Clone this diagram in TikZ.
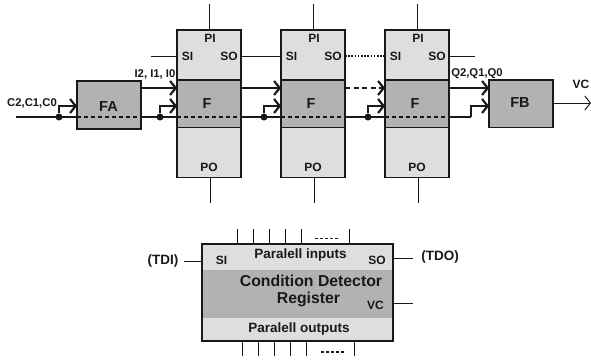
\documentclass[tikz,border=0pt]{standalone}
\usepackage{fontspec}
\setmainfont{Liberation Sans}
\usetikzlibrary{arrows.meta}
\definecolor{lite}{gray}{0.87}
\definecolor{mid}{gray}{0.70}
\definecolor{lin}{gray}{0.10}
\tikzset{
  part/.style={draw=lin,line width=1.2pt,inner sep=0pt,outer sep=0pt,minimum width=64pt},
  litebox/.style={part,fill=lite},
  midbox/.style={part,fill=mid},
  lab/.style={font=\bfseries\fontsize{12}{14}\selectfont,text=lin,inner sep=0pt},
  widelab/.style={font=\bfseries\fontsize{13.5}{15}\selectfont,text=lin,inner sep=0pt},
  smalllab/.style={font=\bfseries\fontsize{11.3}{13}\selectfont,text=lin,inner sep=0pt},
  biglab/.style={font=\bfseries\fontsize{14.5}{16}\selectfont,text=lin,inner sep=0pt},
  titlelab/.style={font=\bfseries\fontsize{15.8}{18}\selectfont,text=lin,inner sep=0pt},
  wire/.style={draw=lin,line width=1pt},
  bus/.style={draw=lin,line width=2pt},
  busdash/.style={bus,dash pattern=on 4pt off 3pt},
  inarrow/.style={draw=lin,line width=1.6pt,-{Straight Barb[length=5.5pt,width=14pt,line width=2.2pt,sep=0pt]}},
  dotn/.style={circle,fill=lin,inner sep=0pt,minimum size=7pt},
}
\begin{document}
\begin{tikzpicture}[x=1pt,y=-1pt]
\useasboundingbox (0,0) rectangle (591,359);
\foreach \n/\x in {1/209,2/313,3/417}{
  \coordinate (top\n) at (\x,4);
  \coordinate (bot\n) at (\x+1,203);
}
\foreach \n/\x in {1/209,2/313,3/417}{
  \node[litebox,minimum height=50pt] (pi\n) at (\x,55) {};
  \node[litebox,minimum height=50pt] (po\n) at (\x,152.5) {};
  \node[midbox,minimum height=47.5pt] (f\n) at (\x,103.75) {};
  \node[lab] (plbl\n) at (\x+1,38.5) {PI};
  \node[lab] (si\n) at (\x-21.5,56) {SI};
  \node[lab] (so\n) at (\x+20,56) {SO};
  \node[lab] (polbl\n) at (\x,167) {PO};
  \node[biglab] (flbl\n) at (\x-2,104) {F};
  \draw[wire] (top\n) -- (\x,30);
  \draw[wire] (\x+1,178) -- (bot\n);
}
\node[midbox,minimum height=48pt] (fa) at (109,105) {};
\node[midbox,minimum height=47.5pt] (fb) at (521,103.75) {};
\node[biglab] (falbl) at (108.5,106.5) {FA};
\node[biglab] (fblbl) at (520,103) {FB};
\coordinate (sistart) at (151,56);
\coordinate (soend) at (475,56);
\coordinate (vcend) at (591,103);
\draw[wire] (sistart) -- (177,56);
\draw[wire] (241,56) -- (281,56);
\draw[wire,line width=1.2pt,dash pattern=on 1.6pt off 1.6pt] (345,56) -- (385,56);
\draw[wire] (449,56) -- (soend);
\draw[inarrow] (141,88) -- (177,88);
\draw[inarrow] (241,88) -- (281,88);
\draw[inarrow,dash pattern=on 5pt off 3.5pt] (345,88) -- (385,88);
\draw[inarrow] (449,88) -- (489,88);
\coordinate (busstart) at (16,117);
\coordinate (busturn) at (471,117);
\node[dotn] (d1) at (59,117) {};
\node[dotn] (d2) at (160,117) {};
\node[dotn] (d3) at (264,117) {};
\node[dotn] (d4) at (368,117) {};
\draw[bus] (busstart) -- (77,117);
\draw[busdash] (77,117) -- (141,117);
\draw[bus] (141,117) -- (177,117);
\draw[busdash] (177,117) -- (241,117);
\draw[bus] (241,117) -- (281,117);
\draw[busdash] (281,117) -- (345,117);
\draw[bus] (345,117) -- (385,117);
\draw[busdash] (385,117) -- (449,117);
\draw[bus] (449,117) -- (busturn);
\draw[inarrow] (busturn) -- (471,106) -- (489,106);
\draw[inarrow] (d1) -- (59,106) -- (77,106);
\draw[inarrow] (d2) -- (160,106) -- (177,106);
\draw[inarrow] (d3) -- (264,106) -- (281,106);
\draw[inarrow] (d4) -- (368,106) -- (385,106);
\draw[wire,-{Straight Barb[length=5.5pt,width=14pt,sep=0pt]}] (fb.east |- 0,103) -- (vcend);
\node[smalllab] (cl) at (32,103.5) {C2,C1,C0};
\node[smalllab] (il) at (155,74) {I2, I1, I0};
\node[smalllab] (ql) at (477,73.5) {Q2,Q1,Q0};
\node[lab] (vcl) at (581,84) {VC};
\node[draw=none,fill=lite,minimum width=191pt,minimum height=97pt,inner sep=0pt,outer sep=0pt] (reg) at (297.5,292.5) {};
\node[draw=none,fill=mid,minimum width=191pt,minimum height=48pt,inner sep=0pt,outer sep=0pt] (band) at (297.5,294) {};
\node[draw=lin,line width=1.8pt,minimum width=191pt,minimum height=97pt,inner sep=0pt,outer sep=0pt] (frame) at (297.5,292.5) {};
\node[lab] (sil) at (221.5,260.5) {SI};
\node[lab] (sol) at (377,260.5) {SO};
\node[lab] (vcl2) at (375.5,305) {VC};
\node[widelab] (pil) at (300.5,255) {Paralell inputs};
\node[widelab] (pol) at (299,329) {Paralell outputs};
\node[titlelab] (cd) at (311,281) {Condition Detector};
\node[titlelab] (rg) at (308.5,299.5) {Register};
\node[widelab] (tdi) at (163,261.5) {(TDI)};
\node[widelab] (tdo) at (440,257) {(TDO)};
\coordinate (tdis) at (184,261);
\coordinate (tdoe) at (413,258);
\coordinate (vce) at (413,303);
\draw[wire] (tdis) -- (frame.west |- 0,261);
\draw[wire] (frame.east |- 0,258) -- (tdoe);
\draw[wire] (frame.east |- 0,303) -- (vce);
\foreach \x in {237,253,269,285,301,349}{
  \coordinate (pin\x) at (\x,229);
  \draw[wire] (pin\x) -- (\x,244);
}
\foreach \x in {242,258,274,290,306,354}{
  \coordinate (pout\x) at (\x,356);
  \draw[wire] (\x,341) -- (pout\x);
}
\coordinate (da) at (315,238.5);
\coordinate (db) at (339,238.5);
\coordinate (dc) at (321,352);
\coordinate (dd) at (345,352);
\draw[wire,line width=1.8pt,dash pattern=on 3pt off 2pt] (da) -- (db);
\draw[wire,line width=1.8pt,dash pattern=on 3pt off 2pt] (dc) -- (dd);
\end{tikzpicture}
\end{document}
